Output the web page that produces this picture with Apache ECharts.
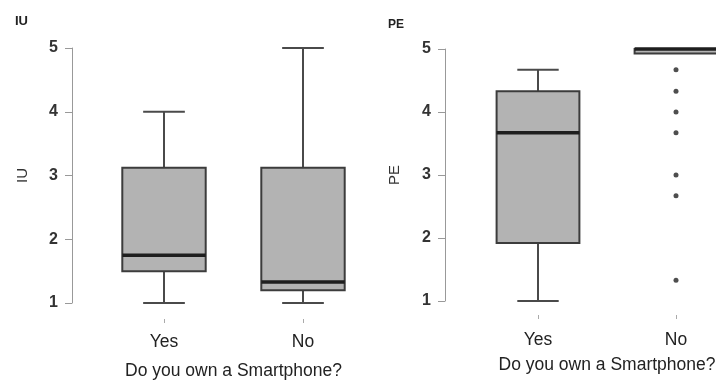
<!DOCTYPE html>
<html>
<head>
<meta charset="utf-8">
<script src="https://cdn.jsdelivr.net/npm/echarts@6/dist/echarts.min.js"></script>
<style>html,body{margin:0;padding:0;background:#fff;}#c{width:716px;height:381px;}</style>
</head>
<body>
<div id="c"></div>
<script>
// ---- data ----
const categories = ['Yes', 'No'];
const yTicks = [1, 2, 3, 4, 5];
// [lower whisker, Q1, median, Q3, upper whisker]
const iuYes = [1, 1.5, 1.75, 3.12, 4];
const iuNo = [1, 1.2, 1.33, 3.12, 5];
const peYes = [1, 1.92, 3.67, 4.33, 4.67];
const peNo = [5, 4.93, 5, 5, 5];
const peNoOutliers = [4.67, 4.33, 4.0, 3.67, 3.0, 2.67, 1.33];
const panelTitles = ['IU', 'PE'];
const xTitle = 'Do you own a Smartphone?';

const FONT = '"Liberation Sans", Arial, sans-serif';
const chart = echarts.init(document.getElementById('c'));

function boxData(a, b) {
  return [[0].concat(a), [1].concat(b)];
}

function renderBox(params, api) {
  const x = api.value(0);
  const lo = api.coord([x, api.value(1)]);
  const q1 = api.coord([x, api.value(2)]);
  const md = api.coord([x, api.value(3)]);
  const q3 = api.coord([x, api.value(4)]);
  const hi = api.coord([x, api.value(5)]);
  const band = api.size([1, 0])[0];
  const cx = lo[0];
  const bw = band * 0.6, cw = band * 0.3;
  const wStyle = { stroke: '#4a4a4a', lineWidth: 2 };
  return {
    type: 'group',
    children: [
      { type: 'line', shape: { x1: cx, y1: q3[1], x2: cx, y2: hi[1] }, style: wStyle },
      { type: 'line', shape: { x1: cx, y1: q1[1], x2: cx, y2: lo[1] }, style: wStyle },
      { type: 'line', shape: { x1: cx - cw / 2, y1: hi[1], x2: cx + cw / 2, y2: hi[1] }, style: wStyle },
      { type: 'line', shape: { x1: cx - cw / 2, y1: lo[1], x2: cx + cw / 2, y2: lo[1] }, style: wStyle },
      { type: 'rect', shape: { x: cx - bw / 2, y: q3[1], width: bw, height: q1[1] - q3[1] },
        style: { fill: '#b3b3b3', stroke: '#3c3c3c', lineWidth: 2 } },
      { type: 'line', shape: { x1: cx - bw / 2, y1: md[1], x2: cx + bw / 2, y2: md[1] },
        style: { stroke: '#1e1e1e', lineWidth: 3.5 } }
    ]
  };
}

function xAxisCfg(gi, offset, margin, gap) {
  return {
    gridIndex: gi, type: 'category', data: categories, offset: offset,
    axisLine: { show: false },
    axisTick: { show: true, alignWithLabel: true, length: 4, lineStyle: { color: '#aaa' } },
    axisLabel: { margin: margin, fontSize: 17.5, color: '#222', fontFamily: FONT },
    name: xTitle, nameLocation: 'middle', nameGap: gap,
    nameTextStyle: { fontSize: 17.5, color: '#222', fontFamily: FONT },
    splitLine: { show: false }
  };
}
function yAxisCfg(gi, offset, name, gap) {
  return {
    gridIndex: gi, type: 'value', min: yTicks[0], max: yTicks[yTicks.length - 1], interval: 1,
    offset: offset,
    axisLine: { show: true, lineStyle: { color: '#999', width: 1 } },
    axisTick: { show: true, length: 7, lineStyle: { color: '#999' } },
    axisLabel: { margin: 14, fontSize: 16, fontWeight: 'bold', color: '#333', fontFamily: FONT },
    splitLine: { show: false },
    name: name, nameLocation: 'middle', nameGap: gap,
    nameTextStyle: { fontSize: 15, color: '#333', fontFamily: FONT }
  };
}

chart.setOption({
  animation: false,
  backgroundColor: '#fff',
  title: [
    { text: panelTitles[0], left: 10, top: 10, textStyle: { fontSize: 13, fontWeight: 'bold', color: '#222', fontFamily: FONT } },
    { text: panelTitles[1], left: 383, top: 14, textStyle: { fontSize: 12, fontWeight: 'bold', color: '#222', fontFamily: FONT } }
  ],
  grid: [
    { left: 94.5, width: 278, top: 48, height: 255, containLabel: false, outerBoundsMode: 'none' },
    { left: 469, width: 276, top: 49, height: 252, containLabel: false, outerBoundsMode: 'none' }
  ],
  xAxis: [xAxisCfg(0, 16, 14, 43), xAxisCfg(1, 14, 16, 41)],
  yAxis: [yAxisCfg(0, 22.5, panelTitles[0], 42), yAxisCfg(1, 24, panelTitles[1], 43)],
  series: [
    { type: 'custom', xAxisIndex: 0, yAxisIndex: 0, renderItem: renderBox,
      data: boxData(iuYes, iuNo), encode: { x: 0, y: [1, 2, 3, 4, 5] }, clip: false },
    { type: 'custom', xAxisIndex: 1, yAxisIndex: 1, renderItem: renderBox,
      data: boxData(peYes, peNo), encode: { x: 0, y: [1, 2, 3, 4, 5] }, clip: false },
    { type: 'scatter', xAxisIndex: 1, yAxisIndex: 1, symbol: 'circle', symbolSize: 5,
      itemStyle: { color: '#222' },
      data: peNoOutliers.map(v => [1, v]) }
  ]
});
</script>
</body>
</html>
